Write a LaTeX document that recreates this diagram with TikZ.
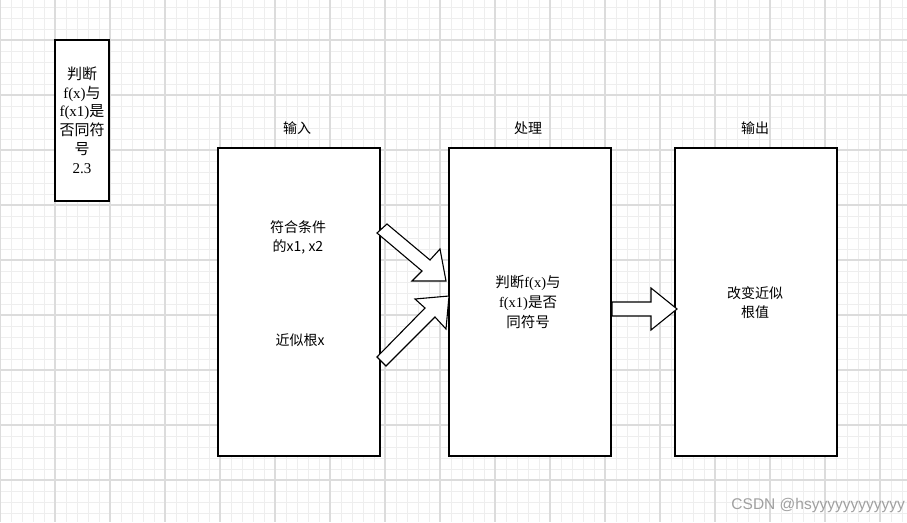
\documentclass[tikz,border=0pt]{standalone}
\usepackage{fontspec}
\setmainfont{Liberation Serif}
\setsansfont{Liberation Sans}
\newfontfamily\cjk{Noto Sans CJK SC}
\definecolor{gridminor}{RGB}{238,238,238}
\definecolor{gridmajor}{RGB}{220,220,220}
\definecolor{wmark}{RGB}{160,160,160}
\begin{document}
\begin{tikzpicture}[x=1pt,y=-1pt,
  box/.style={draw=black,line width=1.1pt,fill=white,inner sep=0pt},
  blockarrow/.style={draw=black,line width=1.1pt,fill=white,line join=miter},
  txt/.style={inner sep=0pt,align=center,font=\cjk\fontsize{14}{19.5}\selectfont}]
\useasboundingbox (0,0) rectangle (907,522);
\fill[white] (0,0) rectangle (907,522);
% grid
\foreach \x in {0,11,...,906} \draw[gridminor,line width=0.9pt] (\x,0) -- (\x,522);
\foreach \y in {7,18,...,521} \draw[gridminor,line width=0.9pt] (0,\y) -- (907,\y);
\foreach \x in {0,55,...,906} \draw[gridmajor,line width=1.1pt] (\x,0) -- (\x,522);
\foreach \y in {40,95,...,521} \draw[gridmajor,line width=1.1pt] (0,\y) -- (907,\y);
% left small box
\node[box,minimum width=54pt,minimum height=161pt] (note) at (82,120.5) {};
\node[inner sep=0pt,align=center,font=\rmfamily\fontsize{15}{18.8}\selectfont] (notetxt) at (82,120) {{\cjk 判断}\\f(x){\cjk 与}\\f(x1){\cjk 是}\\{\cjk 否同符}\\{\cjk 号}\\2.3};
% main boxes
\node[box,minimum width=162pt,minimum height=308pt] (in) at (299,302) {};
\node[box,minimum width=162pt,minimum height=308pt] (proc) at (530,302) {};
\node[box,minimum width=162pt,minimum height=308pt] (out) at (756,302) {};
% titles
\node[txt] (tin) at (297,128) {输入};
\node[txt] (tproc) at (528,128) {处理};
\node[txt] (tout) at (755,128) {输出};
% input texts
\node[txt] (cond) at (298,237.5) {符合条件\\的x1, x2};
\node[txt] (root) at (300,340) {近似根x};
% processing text
\node[inner sep=0pt,align=center,font=\rmfamily\fontsize{14.5}{20}\selectfont] (judge) at (528,302) {{\cjk 判断}f(x){\cjk 与}\\f(x1){\cjk 是否}\\{\cjk 同符号}};
% output text
\node[txt] (change) at (755,302.5) {改变近似\\根值};
% block arrows
\draw[blockarrow] (377,233) -- (387,224) -- (430,260) -- (440,249) -- (446,281) -- (412,281) -- (422,271) -- cycle;
\draw[blockarrow] (377,357) -- (425,308) -- (415,299) -- (449,296) -- (446,329) -- (435,317) -- (386,366) -- cycle;
\draw[blockarrow] (612,302) -- (651,302) -- (651,288) -- (677,309) -- (651,330) -- (651,316) -- (612,316) -- cycle;
% watermark
\node[inner sep=0pt,anchor=east,text=wmark,font=\sffamily\fontsize{15.5}{17}\selectfont] (wm) at (905,505) {CSDN @hsyyyyyyyyyyyy};
\end{tikzpicture}
\end{document}
